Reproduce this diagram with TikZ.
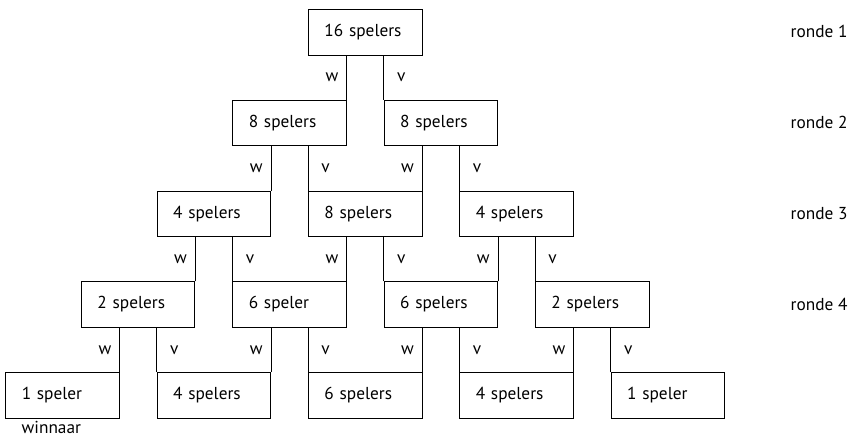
\documentclass[tikz,border=0pt]{standalone}
\usepackage{fontspec}
\setmainfont{PT Sans}
\begin{document}
\begin{tikzpicture}[x=1pt,y=-1pt,
  box/.style={draw, line width=0.9pt, anchor=north west, minimum width=113.5pt, minimum height=45.5pt,
    text width=81.5pt, inner xsep=16pt, inner ysep=0pt, align=left, font=\fontsize{17.3}{20}\selectfont},
  lbl/.style={inner sep=0pt, font=\fontsize{17.3}{20}\selectfont},
  conn/.style={line width=0.9pt}]
\useasboundingbox (0,0) rectangle (853,437);
\def\w{75.67}
\def\h{90.75}
% row 1
\node[box] (a1) at (308,9) {16 spelers};
% row 2
\node[box] (b1) at (308-\w,9+\h) {8 spelers};
\node[box] (b2) at (308+\w,9+\h) {8 spelers};
% row 3
\node[box] (c1) at (308-2*\w,9+2*\h) {4 spelers};
\node[box] (c2) at (308,9+2*\h) {8 spelers};
\node[box] (c3) at (308+2*\w,9+2*\h) {4 spelers};
% row 4
\node[box] (d1) at (308-3*\w,9+3*\h) {2 spelers};
\node[box] (d2) at (308-\w,9+3*\h) {6 speler};
\node[box] (d3) at (308+\w,9+3*\h) {6 spelers};
\node[box] (d4) at (308+3*\w,9+3*\h) {2 spelers};
% row 5
\node[box] (e1) at (308-4*\w,9+4*\h) {1 speler};
\node[box] (e2) at (308-2*\w,9+4*\h) {4 spelers};
\node[box] (e3) at (308,9+4*\h) {6 spelers};
\node[box] (e4) at (308+2*\w,9+4*\h) {4 spelers};
\node[box] (e5) at (308+4*\w,9+4*\h) {1 speler};
% connectors
\foreach \p/\l/\r in {a1/b1/b2, b1/c1/c2, b2/c2/c3, c1/d1/d2, c2/d2/d3, c3/d3/d4, d1/e1/e2, d2/e2/e3, d3/e3/e4, d4/e4/e5}{
  \draw[conn] (\l.north east) -- node[lbl, anchor=east, xshift=-8pt]{w} (\l.north east |- \p.south);
  \draw[conn] (\r.north west) -- node[lbl, anchor=west, xshift=13pt]{v} (\r.north west |- \p.south);
}
% round labels
\node[lbl, anchor=west] (r1) at (790.5,9+22.75) {ronde 1};
\node[lbl, anchor=west] (r2) at (790.5,9+\h+22.75) {ronde 2};
\node[lbl, anchor=west] (r3) at (790.5,9+2*\h+22.75) {ronde 3};
\node[lbl, anchor=west] (r4) at (790.5,9+3*\h+22.75) {ronde 4};
\node[lbl, anchor=west] (win) at (21.5,427.5) {winnaar};
\end{tikzpicture}
\end{document}
